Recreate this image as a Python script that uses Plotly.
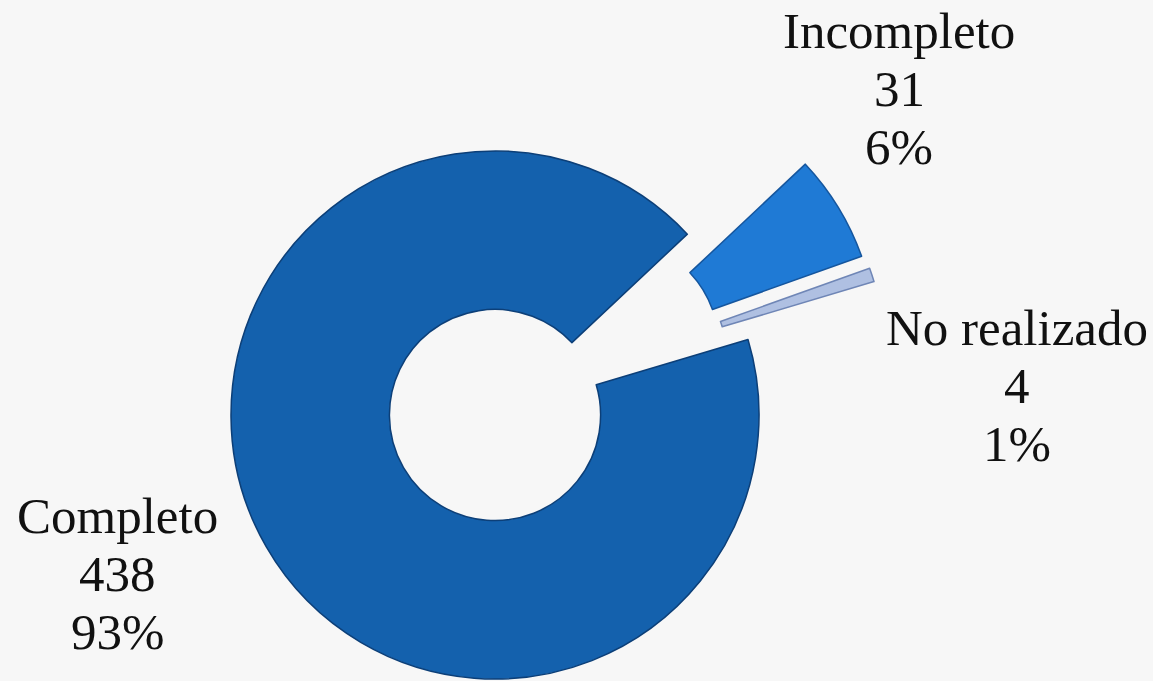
import math
import plotly.graph_objects as go

# ---- data ----
categories = ["Completo", "Incompleto", "No realizado"]
values = [438, 31, 4]
percent_labels = ["93%", "6%", "1%"]

# ---- styling / layout constants ----
W, H = 1153, 681
colors = ["#1461AD", "#1F7AD5", "#AFC0E2"]
edge_colors = ["#0C3F78", "#15569E", "#6F86B6"]
rotation = 73.4
hole = 0.40
R = 264                      # outer radius in px
center = (495, 415)          # px, from top-left
explode = [(0, 0), (118, -70), (126, -58)]   # px offset of each slice
FONT = "Liberation Serif"
FS = 51

fig = go.Figure()
for k, cat in enumerate(categories):
    cx = center[0] + explode[k][0]
    cy = center[1] + explode[k][1]
    dom_x = [(cx - R) / W, (cx + R) / W]
    dom_y = [1 - (cy + R) / H, 1 - (cy - R) / H]
    fill = ["rgba(0,0,0,0)"] * len(categories)
    lc = ["rgba(0,0,0,0)"] * len(categories)
    lw = [0] * len(categories)
    fill[k] = colors[k]
    lc[k] = edge_colors[k]
    lw[k] = 1.5
    fig.add_trace(go.Pie(
        labels=categories, values=values, sort=False, direction="clockwise",
        rotation=rotation, hole=hole, textinfo="none", hoverinfo="skip",
        marker=dict(colors=fill, line=dict(color=lc, width=lw)),
        domain=dict(x=dom_x, y=dom_y), showlegend=False,
    ))

# label blocks: (center x px, first baseline px)
label_pos = [(117, 533), (899, 48), (1017, 345)]
line_gap = 58
for k, cat in enumerate(categories):
    lines = [cat, f"{values[k]}", percent_labels[k]]
    x0, b0 = label_pos[k]
    for j, txt in enumerate(lines):
        base = b0 + j * line_gap
        yc = base - 0.34 * FS
        fig.add_annotation(
            x=x0 / W, y=1 - yc / H, xref="paper", yref="paper",
            text=txt, showarrow=False, xanchor="center", yanchor="middle",
            font=dict(family=FONT, size=FS, color="#111111"),
        )

fig.update_layout(
    width=W, height=H,
    margin=dict(l=0, r=0, t=0, b=0),
    paper_bgcolor="#F7F7F7", plot_bgcolor="#F7F7F7",
)
fig.write_html("out.html")
